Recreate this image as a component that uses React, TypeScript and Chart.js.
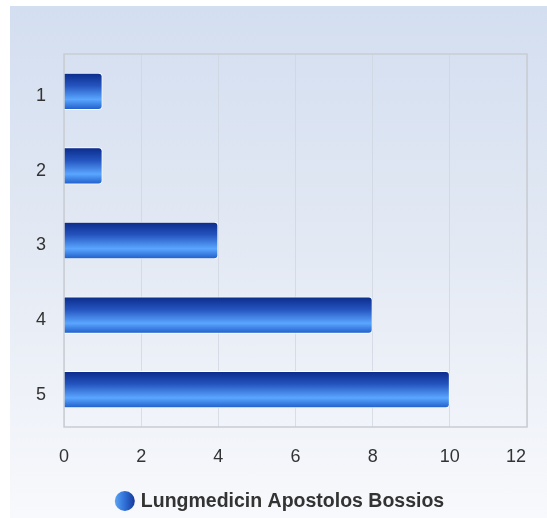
import React, { useEffect, useRef } from "react";
import { Chart, registerables } from "chart.js";

Chart.register(...registerables);

const categories = ["1", "2", "3", "4", "5"];
const values = [1, 1, 4, 8, 10];
const xTicks = [0, 2, 4, 6, 8, 10, 12];
const seriesName = "Lungmedicin Apostolos Bossios";

const W = 537;
const H = 512;
const BAR_PCT = 0.5;
const FONT = "'Liberation Sans', Arial, sans-serif";

const framePlugin = {
  id: "frame",
  beforeDatasetsDraw(chart: any) {
    const { ctx, chartArea: a } = chart;
    ctx.save();
    ctx.strokeStyle = "#c9cdd2";
    ctx.lineWidth = 1.5;
    ctx.strokeRect(a.left, a.top, a.right - a.left, a.bottom - a.top);
    ctx.restore();
  },
  afterDraw(chart: any) {
    const { ctx, chartArea: a } = chart;
    const xs = chart.scales.x;
    ctx.save();
    // x tick labels (kept inside the frame like the original)
    ctx.font = "18px " + FONT;
    ctx.fillStyle = "#333333";
    ctx.textAlign = "center";
    ctx.textBaseline = "middle";
    xTicks.forEach((v) => {
      const label = String(v);
      const w = ctx.measureText(label).width;
      let px = xs.getPixelForValue(v);
      if (px + w / 2 > a.right) px = a.right - w / 2 - 1;
      ctx.fillText(label, px, a.bottom + 30);
    });
    // legend
    ctx.font = "bold 19.5px " + FONT;
    const tw = ctx.measureText(seriesName).width;
    const r = 10;
    const gap = 6;
    const total = r * 2 + gap + tw;
    const x0 = W / 2 + 1 - total / 2;
    const cy = 495;
    const g = ctx.createLinearGradient(x0, 0, x0 + 2 * r, 0);
    g.addColorStop(0, "#5aa4f5");
    g.addColorStop(0.5, "#2f6fd6");
    g.addColorStop(1, "#16389a");
    ctx.beginPath();
    ctx.arc(x0 + r, cy, r, 0, Math.PI * 2);
    ctx.fillStyle = g;
    ctx.fill();
    ctx.fillStyle = "#333333";
    ctx.textBaseline = "middle";
    ctx.textAlign = "left";
    ctx.fillText(seriesName, x0 + 2 * r + gap, cy + 1);
    ctx.restore();
  },
};

export default function App() {
  const ref = useRef<HTMLCanvasElement>(null);
  useEffect(() => {
    if (!ref.current) return;
    const chart = new Chart(ref.current, {
      type: "bar",
      data: {
        labels: categories,
        datasets: [
          {
            label: seriesName,
            data: values,
            backgroundColor: (c: any) => {
              const ch = c.chart;
              const a = ch.chartArea;
              if (!a || c.type !== "data" || !ch.scales.y) return "#2f6fd6";
              const yc = ch.scales.y.getPixelForValue(c.dataIndex);
              const half = ((a.bottom - a.top) / categories.length) * BAR_PCT / 2;
              const g = ch.ctx.createLinearGradient(0, yc - half, 0, yc + half);
              g.addColorStop(0, "#0a2a88");
              g.addColorStop(0.35, "#2454bf");
              g.addColorStop(0.72, "#5aa6ff");
              g.addColorStop(1, "#1d5ac6");
              return g;
            },
            borderColor: "#ffffff",
            borderWidth: 1,
            borderRadius: 4,
            categoryPercentage: 1,
            barPercentage: BAR_PCT,
          },
        ],
      },
      options: {
        indexAxis: "y",
        animation: false,
        responsive: false,
        layout: { padding: { top: 48, right: 20, bottom: 41, left: 0 } },
        plugins: {
          legend: { display: false },
          tooltip: { enabled: false },
        },
        scales: {
          x: {
            type: "linear",
            min: xTicks[0],
            max: xTicks[xTicks.length - 1],
            afterFit: (s: any) => {
              s.height = 50;
              s.paddingLeft = 0;
              s.paddingRight = 0;
            },
            afterBuildTicks: (s: any) => {
              s.ticks = xTicks.map((v) => ({ value: v }));
            },
            ticks: {
              display: false,
              stepSize: 2,
            },
            grid: { color: "rgba(205,212,222,0.7)", drawTicks: false },
            border: { display: false },
          },
          y: {
            type: "category",
            afterFit: (s: any) => {
              s.width = 54;
            },
            ticks: {
              padding: 18,
              labelOffset: 5,
              color: "#333333",
              font: { size: 18, family: FONT },
            },
            grid: { display: false, drawTicks: false },
            border: { display: false },
          },
        },
      },
      plugins: [framePlugin],
    } as any);
    return () => chart.destroy();
  }, []);
  return (
    <div
      style={{
        position: "absolute",
        left: 10,
        top: 6,
        width: W,
        height: H,
        background: "linear-gradient(to bottom, #d3def0 0%, #e4eaf4 50%, #f8f9fc 100%)",
      }}
    >
      <canvas ref={ref} width={W} height={H} style={{ display: "block", width: W, height: H }} />
    </div>
  );
}
